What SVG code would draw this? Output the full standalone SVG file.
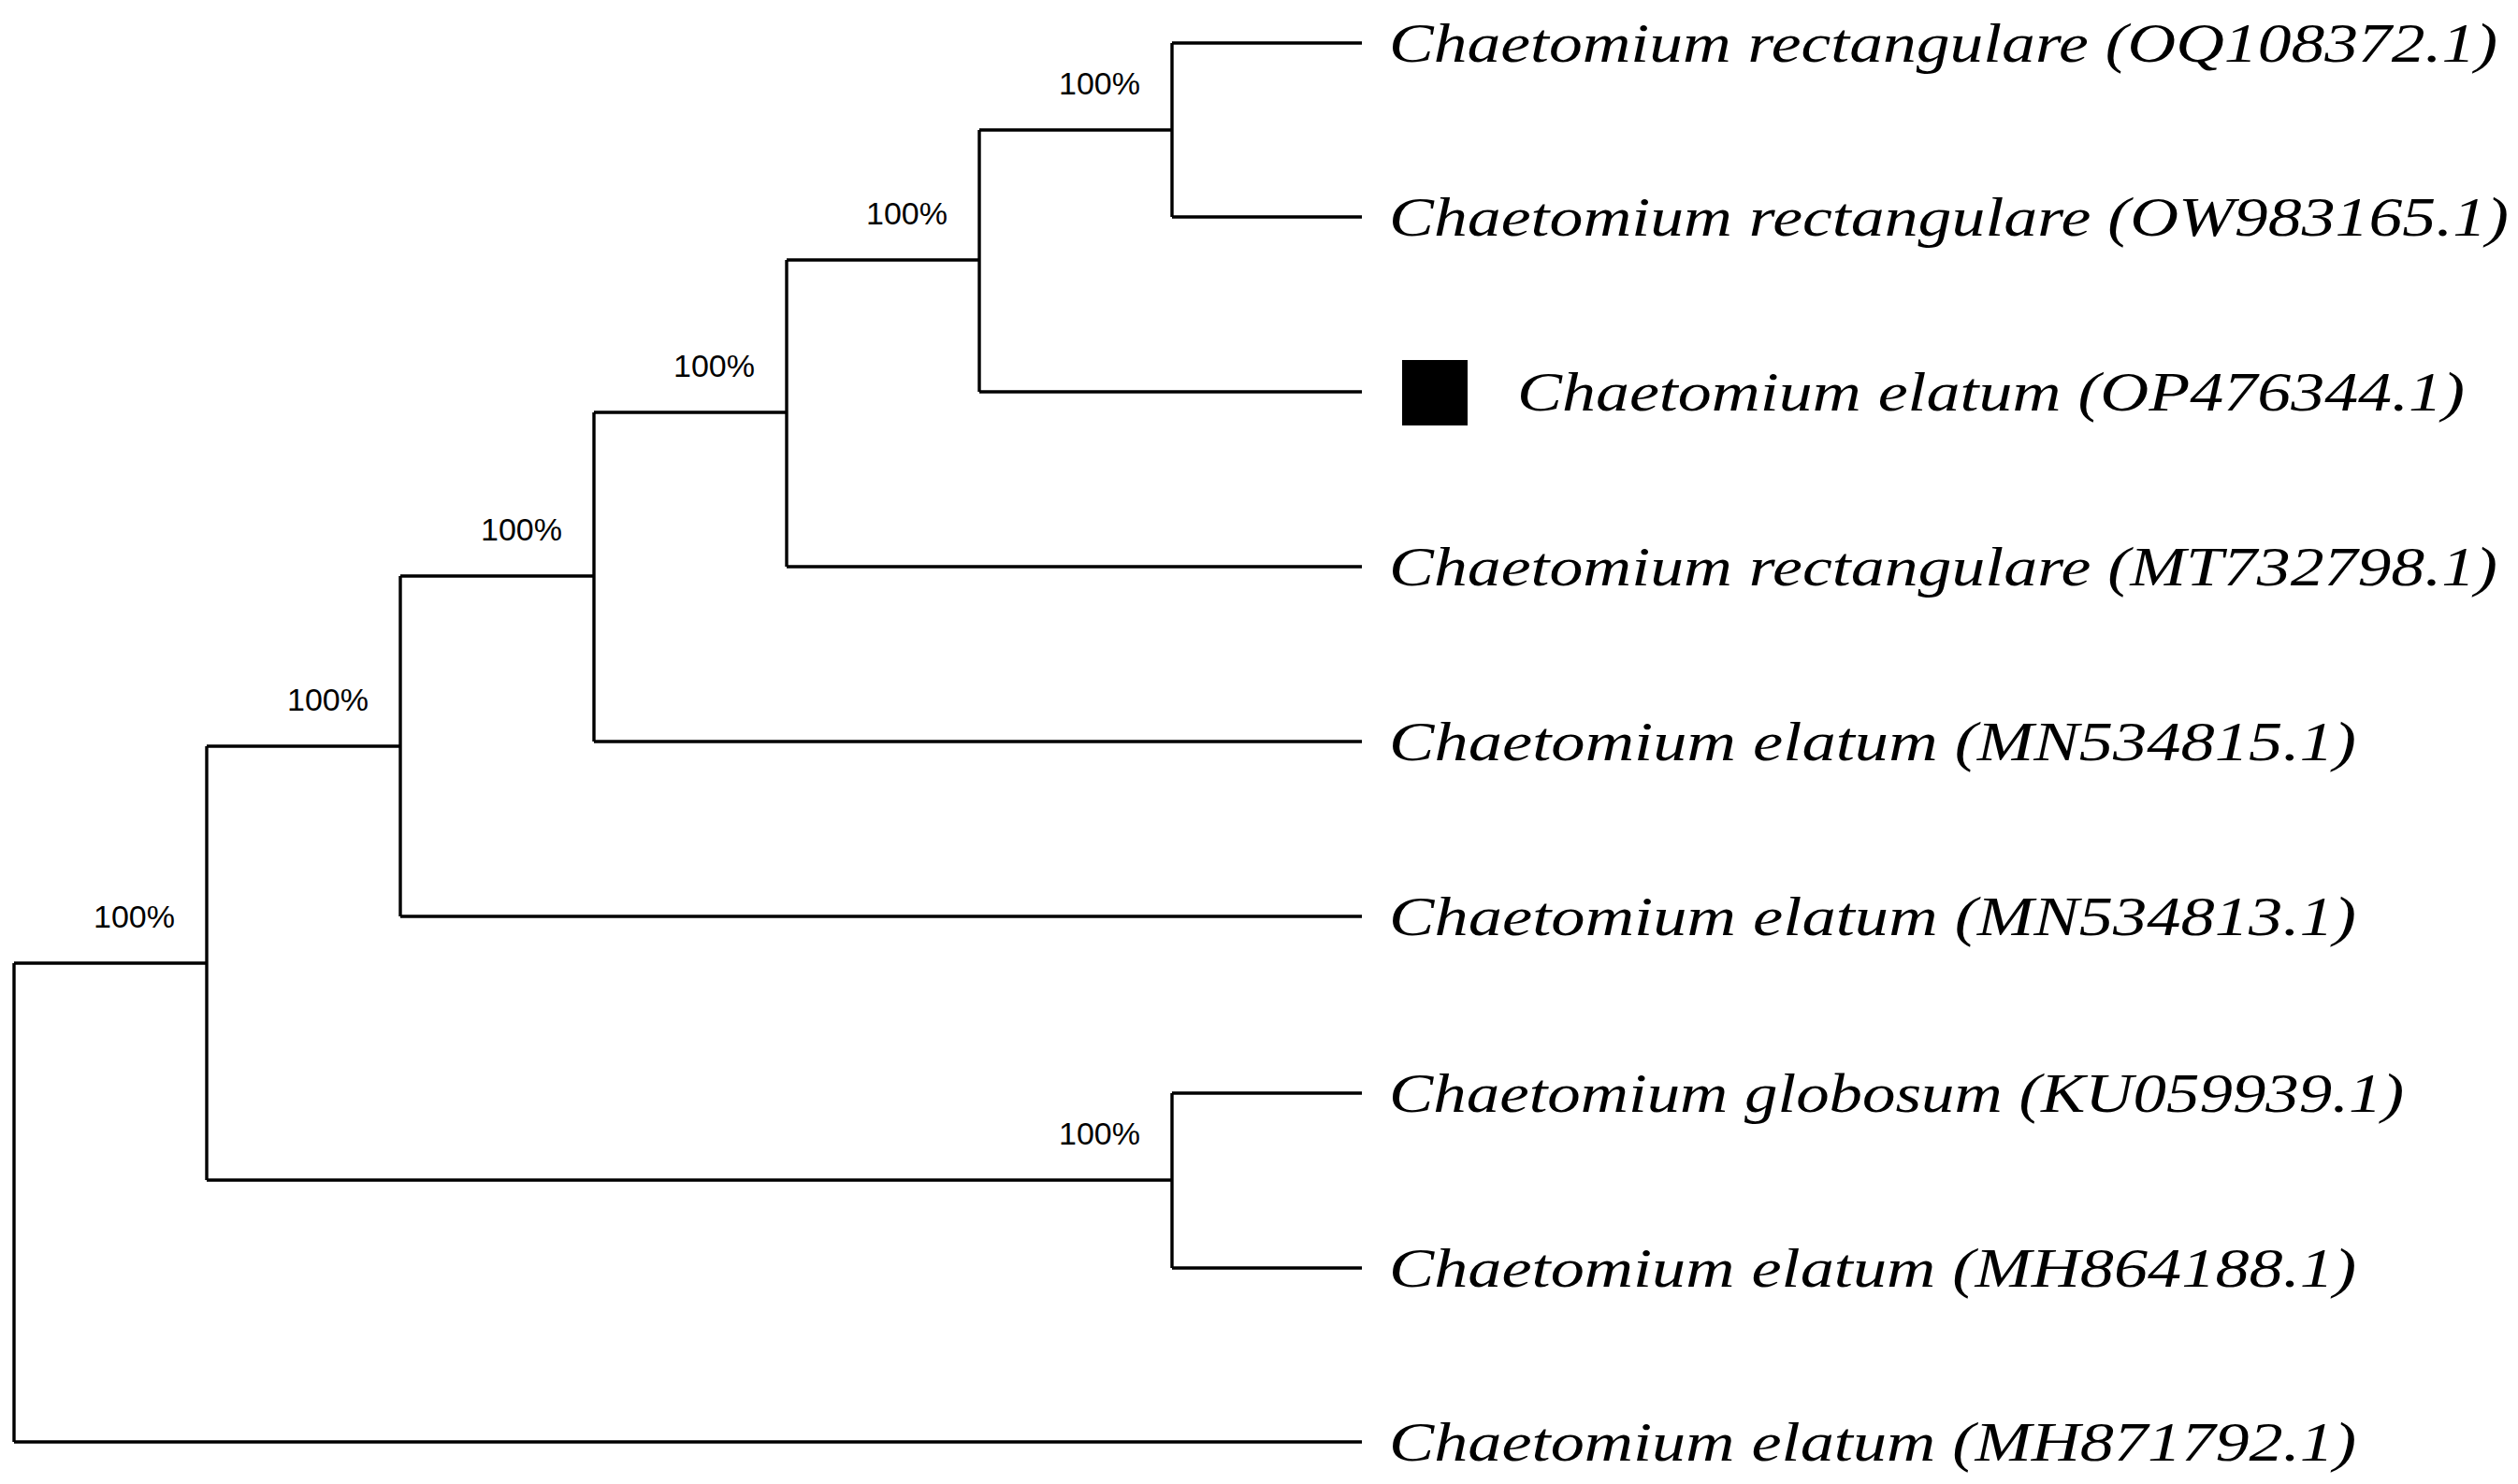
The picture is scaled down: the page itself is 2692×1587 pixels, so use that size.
<svg xmlns="http://www.w3.org/2000/svg" width="2692" height="1587" viewBox="0 0 2692 1587">
<style>
.e{fill:none;stroke:#000;stroke-width:3.4}
.t{font-family:"Liberation Serif",serif;font-style:italic;font-size:60px;fill:#000}
.b{font-family:"Liberation Sans",Arial,sans-serif;font-size:34px;fill:#000;text-anchor:end}
</style>
<rect width="2692" height="1587" fill="#fff"/>
<g id="connectors">
<path class="e" d="M1253,46V232M1253,46H1456M1253,232H1456"/>
<path class="e" d="M1047,139V419M1047,139H1253M1047,419H1456"/>
<path class="e" d="M841,278V606M841,278H1047M841,606H1456"/>
<path class="e" d="M635,441V793M635,441H841M635,793H1456"/>
<path class="e" d="M428,616V980M428,616H635M428,980H1456"/>
<path class="e" d="M1253,1169V1356M1253,1169H1456M1253,1356H1456"/>
<path class="e" d="M221,798V1262M221,798H428M221,1262H1253"/>
<path class="e" d="M15,1030V1542M15,1030H221M15,1542H1456"/>
</g>
<g id="bootstrap">
<text class="b" x="1219" y="101">100%</text>
<text class="b" x="1013" y="240">100%</text>
<text class="b" x="807" y="403">100%</text>
<text class="b" x="601" y="578">100%</text>
<text class="b" x="394" y="760">100%</text>
<text class="b" x="1219" y="1224">100%</text>
<text class="b" x="187" y="992">100%</text>
</g>
<g id="tip1"><text class="t" x="1485" y="66" textLength="1185" lengthAdjust="spacingAndGlyphs">Chaetomium rectangulare (OQ108372.1)</text></g>
<g id="tip2"><text class="t" x="1485" y="252" textLength="1197" lengthAdjust="spacingAndGlyphs">Chaetomium rectangulare (OW983165.1)</text></g>
<g id="tip3"><rect x="1499" y="385" width="70" height="70" fill="#000"/><text class="t" x="1622" y="439" textLength="1013" lengthAdjust="spacingAndGlyphs">Chaetomium elatum (OP476344.1)</text></g>
<g id="tip4"><text class="t" x="1485" y="626" textLength="1185" lengthAdjust="spacingAndGlyphs">Chaetomium rectangulare (MT732798.1)</text></g>
<g id="tip5"><text class="t" x="1485" y="813" textLength="1034" lengthAdjust="spacingAndGlyphs">Chaetomium elatum (MN534815.1)</text></g>
<g id="tip6"><text class="t" x="1485" y="1000" textLength="1034" lengthAdjust="spacingAndGlyphs">Chaetomium elatum (MN534813.1)</text></g>
<g id="tip7"><text class="t" x="1485" y="1189" textLength="1085" lengthAdjust="spacingAndGlyphs">Chaetomium globosum (KU059939.1)</text></g>
<g id="tip8"><text class="t" x="1485" y="1376" textLength="1034" lengthAdjust="spacingAndGlyphs">Chaetomium elatum (MH864188.1)</text></g>
<g id="tip9"><text class="t" x="1485" y="1562" textLength="1034" lengthAdjust="spacingAndGlyphs">Chaetomium elatum (MH871792.1)</text></g>
</svg>
